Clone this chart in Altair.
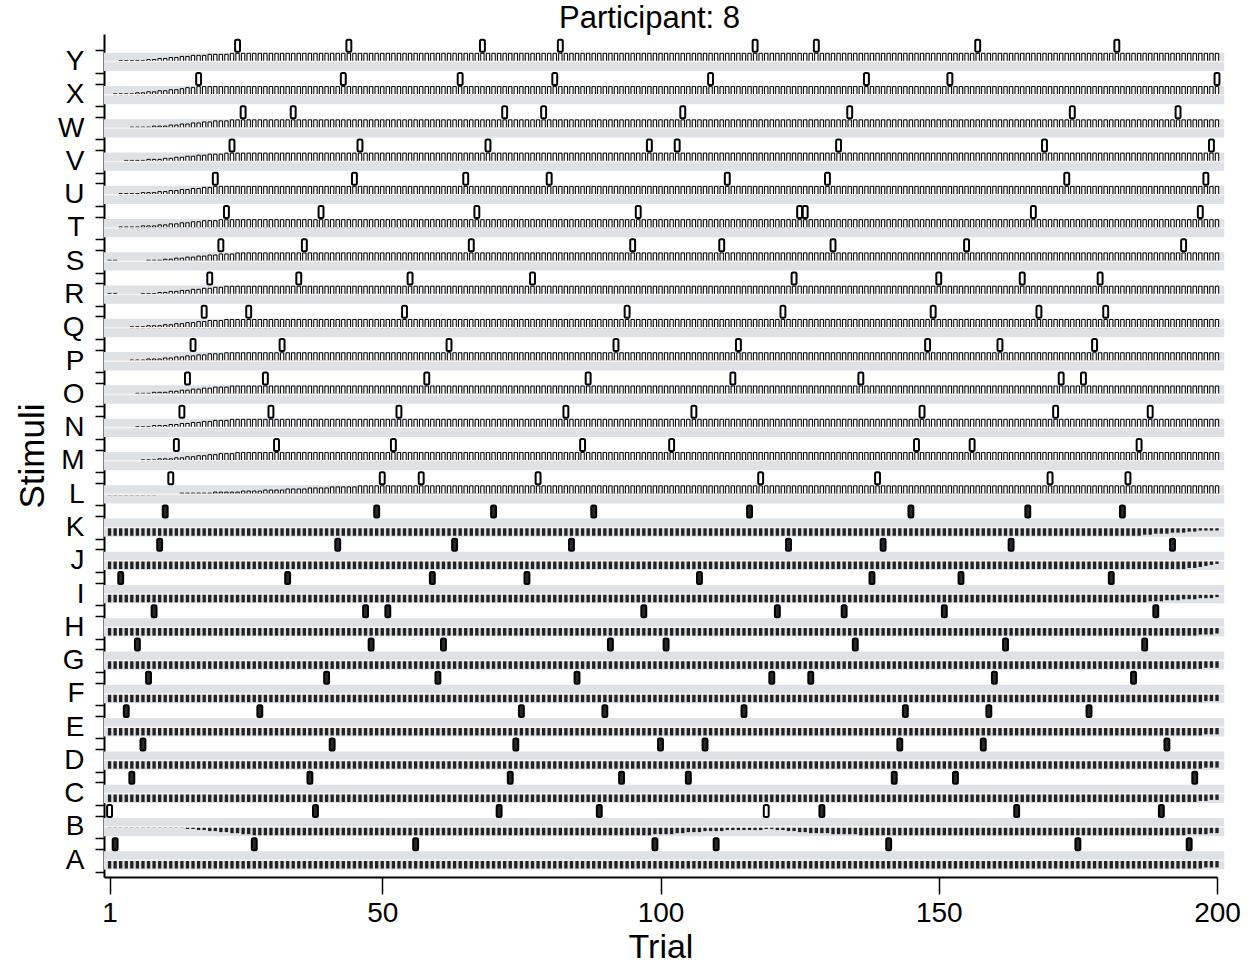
import altair as alt
import pandas as pd

# ---- data -----------------------------------------------------------------
stimuli = list("ABCDEFGHIJKLMNOPQRSTUVWXY")
n_trials = 200

# trials on which each stimulus was shown
presented = {
    "A": [2, 27, 56, 99, 110, 141, 175, 195],
    "B": [1, 38, 71, 89, 119, 129, 164, 190],
    "C": [5, 37, 73, 93, 105, 142, 153, 196],
    "D": [7, 41, 74, 100, 108, 143, 158, 191],
    "E": [4, 28, 75, 90, 115, 144, 159, 177],
    "F": [8, 40, 60, 85, 120, 127, 160, 185],
    "G": [6, 48, 61, 91, 101, 135, 162, 187],
    "H": [9, 47, 51, 97, 121, 133, 151, 189],
    "I": [3, 33, 59, 76, 107, 138, 154, 181],
    "J": [10, 42, 63, 84, 123, 140, 163, 192],
    "K": [11, 49, 70, 88, 116, 145, 166, 183],
    "L": [12, 50, 57, 78, 118, 139, 170, 184],
    "M": [13, 31, 52, 86, 102, 146, 156, 186],
    "N": [14, 30, 53, 83, 106, 147, 171, 188],
    "O": [15, 29, 58, 87, 113, 136, 172, 176],
    "P": [16, 32, 62, 92, 114, 148, 161, 178],
    "Q": [18, 26, 54, 94, 122, 149, 168, 180],
    "R": [19, 35, 55, 77, 124, 150, 165, 179],
    "S": [21, 36, 66, 95, 111, 131, 155, 194],
    "T": [22, 39, 67, 96, 125, 126, 167, 197],
    "U": [20, 45, 65, 80, 112, 130, 173, 198],
    "V": [23, 46, 69, 98, 103, 132, 169, 199],
    "W": [25, 34, 72, 79, 104, 134, 174, 193],
    "X": [17, 43, 64, 81, 109, 137, 152, 200],
    "Y": [24, 44, 68, 82, 117, 128, 157, 182],
}

# response on each presentation: f = first category (filled), o = second (open)
responses = {s: "ffffffff" for s in "ACDEFGHIJK"}
responses["B"] = "offfofff"
responses.update({s: "oooooooo" for s in "LMNOPQRSTUVWXY"})

# per-trial strength, one character per trial (groups of ten trials):
# '0'..'8' = 0..8 eighths above the line, 'a'..'h' = 1..8 eighths below it
UP = "8888888888 8888888888 8888888888 8888888888 8888888888"
DN = "hhhhhhhhhh hhhhhhhhhh hhhhhhhhhh hhhhhhhhhh hhhhhhhhhh"

strength = {
    "A": [DN, DN, DN, "hhhhhhhhhh hhhhhhhhhh hhhhhhhhhh hhhhhhhhhh hhhhhhhggg"],
    "B": ["aaaaaaaaaa aaaabbccdd eeffgghhhh hhhhhhhhhh hhhhhhhhhh",
          "hhhhhhhhhh hhhhhhhhhh hhhhhhhhhh hhhhhhhhhh hhhhhhhhgg",
          "ggffeeeddd dcccccccbb ccddeeffff ggggghhhhh hhhhhhhhhh",
          "hhhhhhhhhh hhhhhhhhhh hhhhhhhhhh hhhhhhhhhh hhhhggggff"],
    "C": [DN, DN, DN, "hhhhhhhhhh hhhhhhhhhh hhhhhhhhhh hhhhhhhhhh hhhhhhggff"],
    "D": [DN, DN, DN, "hhhhhhhhhh hhhhhhhhhh hhhhhhhhhh hhhhhhhhhh hhhhhhhggg"],
    "E": [DN, DN, DN, "hhhhhhhhhh hhhhhhhhhh hhhhhhhhhh hhhhhhhhhh hhhhhhhggg"],
    "F": [DN, DN, DN, "hhhhhhhhhh hhhhhhhhhh hhhhhhhhhh hhhhhhhhhh hhhhhhhggg"],
    "G": [DN, DN, DN, "hhhhhhhhhh hhhhhhhhhh hhhhhhhhhh hhhhhhhhhh hhhhhhhggg"],
    "H": [DN, DN, DN, "hhhhhhhhhh hhhhhhhhhh hhhhhhhhhh hhhhhhhhhh hhhhhhgggf"],
    "I": [DN, DN, DN, "hhhhhhhhhh hhhhhhhhhh hhhhhhhhhh hhhhhhhggg fffeeedddc"],
    "J": [DN, DN, DN, "hhhhhhhhhh hhhhhhhhhh hhhhhhhhhh hhhhhhhhhh hhhhggfedc"],
    "K": [DN, DN, DN, "hhhhhhhhhh hhhhhhhhhh hhhhhhhhhh hhhhhhggff feeeddcccc"],
    "L": ["aaaaaaaaa0 0001111112 2222333344 4455556666 7777788888", UP, UP, UP],
    "M": ["0000001112 2233445566 7778888888 8888888888 8888888888", UP, UP, UP],
    "N": ["0000011122 2334455667 7788888888 8888888888 8888888888", UP, UP, UP],
    "O": ["0000011122 2334455667 7788888888 8888888888 8888888888", UP, UP, UP],
    "P": ["0000111222 3344556677 7888888888 8888888888 8888888888", UP, UP, UP],
    "Q": ["0000111222 3344556677 7888888888 8888888888 8888888888", UP, UP, UP],
    "R": ["1100001112 2334455667 7888888888 8888888888 8888888888", UP, UP, UP],
    "S": ["1100000111 2233445566 7778888888 8888888888 8888888888", UP, UP, UP],
    "T": ["0011112223 3445566777 8888888888 8888888888 8888888888", UP, UP, UP],
    "U": ["0011112223 3445566778 8888888888 8888888888 8888888888", UP, UP, UP],
    "V": ["0001111222 3344556677 7888888888 8888888888 8888888888", UP, UP, UP],
    "W": ["0000111122 2334455667 7788888888 8888888888 8888888888", UP, UP, UP],
    "X": ["0111122334 4556778888 8888888888 8888888888 8888888888", UP, UP, UP],
    "Y": ["0011111223 3445566677 7788888888 8888888888 8888888888", UP, UP, UP],
}


def decode(lines):
    chars = "".join(lines).replace(" ", "")
    vals = []
    for ch in chars:
        vals.append(int(ch) if ch.isdigit() else -(ord(ch) - ord("a") + 1))
    return vals


FULL = 0.25          # bar length at full strength, in row units
X_END = 201.3        # row bands run slightly past the last trial

band_rows, bar_rows, mark_rows = [], [], []
for k, s in enumerate(stimuli):
    band_rows.append({"stim": s, "k": k, "x0": 0, "x1": X_END,
                      "lo": k - 0.28, "hi": k + 0.27})
    for t, v in enumerate(decode(strength[s]), start=1):
        if v != 0:
            bar_rows.append({"stim": s, "trial": t, "x0": t - 0.3, "x1": t + 0.3,
                             "lo": k, "hi": k + v * FULL / 8,
                             "side": "up" if v > 0 else "down"})
    for t, r in zip(presented[s], responses[s]):
        mark_rows.append({"stim": s, "trial": t, "x0": t - 0.44, "x1": t + 0.44,
                          "lo": k + 0.30, "hi": k + 0.66,
                          "resp": "open" if r == "o" else "filled"})

bands = pd.DataFrame(band_rows)
bars = pd.DataFrame(bar_rows)
marks = pd.DataFrame(mark_rows)

# ---- scales & axes ---------------------------------------------------------
xscale = alt.Scale(domain=[0, n_trials], nice=False, zero=False)
yscale = alt.Scale(domain=[-0.505, 24.83], nice=False, zero=False)

letters_js = "[" + ",".join(f"'{s}'" for s in stimuli) + "]"
tick_vals = sorted([k + d for k in range(len(stimuli)) for d in (-0.34, 0, 0.34)])

xaxis = alt.Axis(values=[1, 50, 100, 150, 200], tickSize=17, tickWidth=1.5,
                 tickColor="black", domainColor="black", domainWidth=2,
                 labelFontSize=28, labelPadding=5, labelColor="black",
                 labelFlush=False, grid=False, title="Trial", titleFontSize=34,
                 titleFontWeight="normal", titleColor="black", titleY=53,
                 titleBaseline="top")
yaxis = alt.Axis(values=tick_vals,
                 labelExpr=f"datum.value % 1 == 0 ? {letters_js}[datum.value] : ''",
                 tickOpacity={"condition": {"test": "datum.value % 1 == 0", "value": 0},
                              "value": 1},
                 tickSize=9, tickWidth=1.5, tickColor="black",
                 domainColor="black", domainWidth=2, labelFontSize=28,
                 labelPadding=11, labelColor="black", labelOverlap=False,
                 labelBound=False, labelFlush=False, grid=False, title="Stimuli",
                 titleFontSize=35, titleFontWeight="normal", titleColor="black",
                 titleX=-61, titleBaseline="alphabetic")

X = alt.X("x0:Q", scale=xscale, axis=xaxis)
X2 = alt.X2("x1:Q")
Y = alt.Y("lo:Q", scale=yscale, axis=yaxis)
Y2 = alt.Y2("hi:Q")

band_layer = alt.Chart(bands).mark_rect(color="#dee2e6").encode(x=X, x2=X2, y=Y, y2=Y2)

down_layer = alt.Chart(bars).transform_filter("datum.side == 'down'").mark_rect(
    color="#222222").encode(x=X, x2=X2, y=Y, y2=Y2)

up_layer = alt.Chart(bars).transform_filter("datum.side == 'up'").mark_rect(
    fill="white", stroke="black", strokeWidth=1).encode(x=X, x2=X2, y=Y, y2=Y2)

base_layer = alt.Chart(bands).mark_rule(color="#f8f1ee", strokeWidth=1.6).encode(
    x=X, x2=X2, y=alt.Y("k:Q", scale=yscale, axis=yaxis))

filled_marks = alt.Chart(marks).transform_filter("datum.resp == 'filled'").mark_rect(
    fill="#2a2a2a", stroke="black", strokeWidth=2, cornerRadius=1.5).encode(
    x=X, x2=X2, y=Y, y2=Y2)

open_marks = alt.Chart(marks).transform_filter("datum.resp == 'open'").mark_rect(
    fill="white", stroke="black", strokeWidth=2, cornerRadius=1.5).encode(
    x=X, x2=X2, y=Y, y2=Y2)

chart = alt.layer(
    band_layer, down_layer, up_layer, base_layer, filled_marks, open_marks
).properties(
    width=1113,
    height=843,
    padding={"left": 104, "top": 34, "right": 38, "bottom": 91},
    autosize=alt.AutoSizeParams(type="none"),
    title=alt.TitleParams("Participant: 8", fontSize=31, fontWeight="normal",
                          color="black", anchor="middle", baseline="alphabetic",
                          offset=6, dx=-11, dy=31),
).configure(font="Liberation Sans").configure_view(strokeWidth=0)

chart.save("out.html", embed_options={"renderer": "svg", "actions": False})
